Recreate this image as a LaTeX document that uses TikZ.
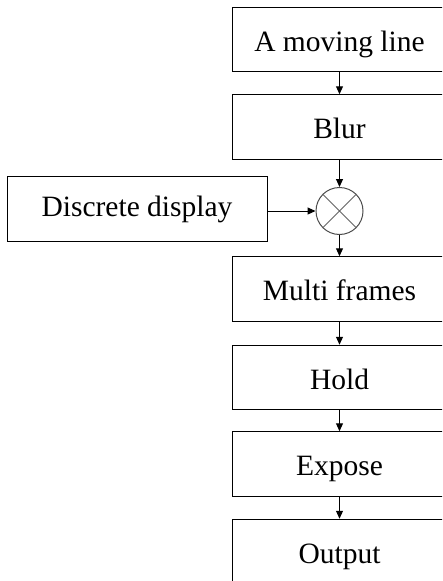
\documentclass[tikz,border=0pt]{standalone}
\usepackage{fontspec}
\setmainfont{Liberation Serif}
\usetikzlibrary{arrows.meta}
\begin{document}
\begin{tikzpicture}[x=1pt,y=-1pt,
  blk/.style={draw=black, line width=1pt, minimum width=215pt, minimum height=64.5pt, inner sep=0pt,
    font=\fontsize{29.5}{35}\selectfont, text height=29.5pt, text depth=5.6pt},
  dblk/.style={blk, minimum width=260pt, minimum height=65pt, text height=22pt, text depth=6pt},
  arr/.style={-{Triangle[length=8pt,width=7pt]}, line width=1pt, draw=black},
  mixer/.style={circle, draw=black!70, line width=1pt, minimum size=47pt, inner sep=0pt}]
\path[use as bounding box, clip] (0,0) rectangle (442,581);
\fill[white] (0,0) rectangle (442,581);
\node[blk] (a) at (339.5,39.5) {A moving line};
\node[blk] (b) at (339.5,127) {Blur};
\node[mixer] (m) at (339.5,211) {};
\draw[black!60, line width=1pt] (m.45) -- (m.225) (m.135) -- (m.315);
\node[dblk] (d) at (137,208.5) {Discrete display};
\node[blk] (c) at (339.5,289) {Multi frames};
\node[blk] (h) at (339.5,377.5) {Hold};
\node[blk] (e) at (339.5,464) {Expose};
\node[blk] (o) at (339.5,551.5) {Output};
\draw[arr] (a.south) -- (b.north);
\draw[arr] (b.south) -- (m.north);
\draw[arr] (d.east |- m.west) -- (m.west);
\draw[arr] (m.south) -- (c.north);
\draw[arr] (c.south) -- (h.north);
\draw[arr] (h.south) -- (e.north);
\draw[arr] (e.south) -- (o.north);
\end{tikzpicture}
\end{document}
